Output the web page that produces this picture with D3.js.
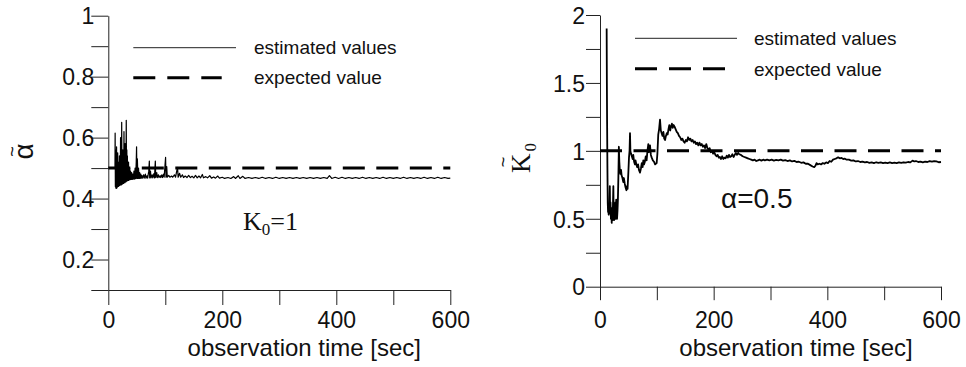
<!DOCTYPE html>
<html>
<head>
<meta charset="utf-8">
<script src="https://cdn.jsdelivr.net/npm/d3@7"></script>
<style>
  body { margin: 0; background: #fff; }
  svg { display: block; font-family: "Liberation Sans", Arial, sans-serif; }
  text { fill: #111; }
  .serif { font-family: "Liberation Serif", "Times New Roman", serif; }
</style>
</head>
<body>
<svg id="chart" width="966" height="367"></svg>
<script>
// ---- data ----
const timeTicks = [0, 100, 200, 300, 400, 500, 600];
const timeTickLabels = [0, 200, 400, 600];
const legendLabels = ['estimated values', 'expected value'];

const alphaTicks = [0.1, 0.2, 0.3, 0.4, 0.5, 0.6, 0.7, 0.8, 0.9, 1];
const alphaTickLabels = [0.2, 0.4, 0.6, 0.8, 1];
const alphaExpected = 0.5;
// [time sec, estimated alpha]
const alphaSeries = [
  [11.7,0.50],[12.0,0.615],[12.4,0.44],[12.8,0.56],[13.2,0.435],[13.6,0.53],[14.0,0.433],[14.5,0.57],
  [15.0,0.435],[15.5,0.52],[16.0,0.438],[16.5,0.55],[17.0,0.44],[17.5,0.50],[18.0,0.44],[18.5,0.52],
  [19.0,0.442],[19.5,0.54],[20.0,0.443],[20.5,0.50],[21.0,0.445],[21.5,0.60],[22.0,0.445],[22.5,0.55],
  [23.0,0.445],[23.5,0.65],[24.0,0.447],[24.5,0.52],[25.0,0.448],[25.5,0.56],[26.0,0.45],[26.5,0.50],
  [27.0,0.45],[27.5,0.62],[28.0,0.452],[28.5,0.53],[29.0,0.452],[29.5,0.58],[30.0,0.455],[30.5,0.52],
  [31.0,0.455],[31.5,0.657],[32.0,0.457],[32.5,0.56],[33.0,0.458],[33.5,0.54],[34.0,0.46],[34.5,0.50],
  [35.0,0.46],[35.5,0.52],[36.0,0.46],[36.5,0.49],[37.0,0.462],[37.5,0.50],[38.0,0.462],[39.0,0.49],
  [40.0,0.463],[41.0,0.485],[42.0,0.463],[43.0,0.48],[44.0,0.464],[45.0,0.49],[46.0,0.464],[47.0,0.50],
  [48.0,0.465],[49.0,0.52],[49.6,0.57],[50.2,0.466],[51.0,0.53],[52.0,0.466],[53.0,0.50],[54.0,0.466],
  [55.0,0.485],[56.0,0.466],[57.0,0.48],[58.0,0.467],[59.0,0.475],[60.0,0.467],[62.0,0.478],[63.0,0.467],
  [65.0,0.48],[66.0,0.467],[68.0,0.475],[69.0,0.467],[71.0,0.49],[72.0,0.523],[72.6,0.468],[74.0,0.49],
  [75.0,0.468],[77.0,0.478],[78.0,0.468],[80.0,0.482],[81.0,0.468],[82.5,0.523],[83.2,0.469],[85.0,0.485],
  [86.0,0.469],[88.0,0.478],[89.0,0.469],[91.0,0.475],[92.0,0.469],[94.0,0.478],[95.0,0.469],[97.0,0.48],
  [98.0,0.47],[99.5,0.51],[100.5,0.535],[101.2,0.47],[102.5,0.505],[103.5,0.47],[106,0.476],[108,0.47],
  [111,0.474],[113,0.47],[116,0.478],[118,0.47],[120,0.49],[121.5,0.502],[122.5,0.47],[125,0.483],
  [127,0.47],[130,0.478],[132,0.469],[135,0.474],[138,0.469],[141,0.476],[144,0.469],[147,0.473],
  [150,0.468],[153,0.476],[156,0.468],[159,0.474],[162,0.468],[165,0.479],[167,0.468],[171,0.472],
  [174,0.468],[178,0.475],[181,0.467],[185,0.471],[188,0.467],[192,0.474],[195,0.467],[200,0.47],
  [204,0.466],[210,0.469],[215,0.466],[220,0.472],[223,0.466],[228,0.475],[231,0.466],[236,0.473],
  [240,0.466],[246,0.469],[252,0.466],[258,0.469],[264,0.466],[270,0.47],[276,0.466],[282,0.469],
  [288,0.466],[294,0.47],[300,0.466],[306,0.469],[312,0.466],[318,0.469],[324,0.466],[330,0.469],
  [336,0.466],[342,0.469],[348,0.466],[354,0.469],[360,0.466],[366,0.469],[372,0.466],[378,0.469],
  [384,0.466],[388,0.475],[392,0.466],[398,0.47],[404,0.466],[410,0.47],[416,0.466],[422,0.469],
  [428,0.466],[434,0.469],[440,0.466],[446,0.47],[452,0.466],[458,0.469],[464,0.466],[470,0.469],
  [476,0.466],[482,0.47],[488,0.466],[494,0.469],[500,0.466],[506,0.469],[512,0.466],[518,0.47],
  [524,0.466],[530,0.469],[536,0.466],[542,0.469],[548,0.466],[554,0.47],[560,0.466],[566,0.469],
  [572,0.466],[578,0.47],[584,0.466],[590,0.469],[596,0.466],[600,0.467]
];

const k0Ticks = [0, 0.25, 0.5, 0.75, 1, 1.25, 1.5, 1.75, 2];
const k0TickLabels = [0, 0.5, 1, 1.5, 2];
const k0Expected = 1;
// [time sec, estimated K0]
const k0Series = [
  [11.7,1.90],[12.1,1.50],[12.5,1.20],[13.0,0.90],[13.6,0.62],[14.2,0.55],[14.8,0.56],[15.3,0.53],
  [15.8,0.60],[16.5,0.54],[17.3,0.74],[17.8,0.55],[18.5,0.62],[19.2,0.50],[20.0,0.58],[20.6,0.47],
  [21.2,0.55],[22.0,0.49],[22.8,0.60],[23.5,0.74],[24.0,0.52],[24.8,0.49],[25.5,0.58],[26.2,0.50],
  [27.0,0.62],[27.8,0.50],[28.5,0.64],[29.2,0.51],[30.0,0.50],[30.8,0.56],[31.5,0.64],[32.3,0.80],
  [33.2,1.03],[34.0,0.92],[35.0,0.85],[36.0,0.83],[37.0,0.86],[38.0,0.82],[39.5,0.80],[41.0,0.77],
  [42.0,0.80],[43.5,0.76],[45.0,0.73],[46.5,0.71],[47.5,0.74],[48.5,0.72],[50.0,0.85],[51.0,0.95],
  [52.0,1.00],[52.8,1.13],[53.5,1.00],[54.5,0.98],[56.0,0.96],[57.5,0.94],[58.5,0.97],[60.0,0.92],
  [61.5,0.90],[62.5,0.93],[64.0,0.90],[65.5,0.88],[67.0,0.90],[68.5,0.86],[70.4,0.84],[72.0,0.87],
  [73.5,0.91],[75.0,0.88],[76.2,0.93],[77.5,0.90],[79.0,0.92],[80.5,0.96],[82.0,0.93],[83.5,1.00],
  [85.0,1.05],[86.0,0.99],[87.0,1.02],[88.0,1.04],[89.5,0.97],[91.0,0.95],[93.0,0.93],[95.0,0.92],
  [97.0,0.90],[99.7,0.91],[101.0,0.98],[102.5,1.12],[104.0,1.16],[105.6,1.23],[107.0,1.15],[108.5,1.13],
  [110.0,1.11],[111.5,1.14],[113.0,1.09],[114.5,1.08],[116.0,1.11],[117.5,1.13],[119.0,1.12],[120.5,1.16],
  [122.0,1.19],[123.5,1.15],[125.0,1.18],[126.5,1.20],[128.0,1.17],[129.5,1.19],[131.0,1.18],[133.0,1.16],
  [135.0,1.14],[137.0,1.13],[139.0,1.11],[141.0,1.10],[143.0,1.08],[145.0,1.09],[147.0,1.07],[149.0,1.06],
  [151.0,1.08],[153.0,1.07],[155.0,1.10],[157.0,1.08],[159.0,1.09],[161.0,1.07],[163.0,1.08],[165.0,1.06],
  [167.0,1.07],[169.0,1.05],[171.0,1.06],[173.0,1.04],[175.0,1.06],[177.0,1.04],[179.0,1.05],[181.0,1.03],
  [183.0,1.04],[185.0,1.02],[187.0,1.05],[189.0,1.02],[191.0,1.01],[193.0,1.02],[195.0,0.99],[197.0,1.00],
  [199.0,0.98],[201.0,0.99],[203.0,0.97],[205.0,0.96],[207.0,0.97],[209.0,0.95],[211.0,0.955],[213.0,0.94],
  [215.0,0.96],[217.0,0.94],[219.0,0.95],[221.0,0.945],[223.0,0.965],[225.0,0.95],[227.0,0.97],[229.0,0.955],
  [231.0,0.96],[233.0,0.975],[235.0,0.955],[237.0,0.97],[239.0,0.985],[241.0,0.97],[243.0,0.985],[245.0,0.975],
  [248.0,0.97],[251.0,0.96],[254.0,0.955],[257.0,0.95],[260.0,0.945],[263.0,0.94],[266.0,0.935],[269.0,0.93],
  [272.0,0.935],[275.0,0.925],[278.0,0.93],[281.0,0.935],[284.0,0.928],[287.0,0.935],[290.0,0.93],[294.0,0.936],
  [298.0,0.93],[302.0,0.935],[306.0,0.928],[310.0,0.933],[314.0,0.93],[318.0,0.935],[322.0,0.928],[326.0,0.932],
  [330.0,0.925],[334.0,0.93],[338.0,0.922],[342.0,0.926],[346.0,0.918],[350.0,0.92],[354.0,0.912],[358.0,0.915],
  [362.0,0.905],[366.0,0.905],[370.0,0.895],[374.0,0.885],[377.0,0.88],[379.0,0.89],[381.0,0.91],[383.0,0.90],
  [386.0,0.905],[389.0,0.90],[392.0,0.91],[395.0,0.905],[398.0,0.915],[401.0,0.91],[404.0,0.925],[407.0,0.92],
  [410.0,0.935],[413.0,0.94],[416.0,0.945],[419.0,0.952],[422.0,0.945],[425.0,0.948],[428.0,0.94],[431.0,0.942],
  [434.0,0.935],[438.0,0.935],[442.0,0.928],[446.0,0.93],[450.0,0.922],[454.0,0.925],[458.0,0.918],[462.0,0.92],
  [466.0,0.915],[470.0,0.918],[474.0,0.912],[478.0,0.915],[482.0,0.91],[486.0,0.916],[490.0,0.912],[494.0,0.915],
  [498.0,0.91],[502.0,0.914],[506.0,0.91],[510.0,0.915],[514.0,0.91],[518.0,0.913],[522.0,0.91],[526.0,0.915],
  [530.0,0.912],[534.0,0.916],[538.0,0.913],[542.0,0.918],[546.0,0.915],[550.0,0.928],[553.0,0.922],[556.0,0.925],
  [560.0,0.918],[564.0,0.92],[568.0,0.915],[572.0,0.92],[576.0,0.918],[580.0,0.924],[584.0,0.92],[588.0,0.925],
  [592.0,0.922],[596.0,0.916],[600.0,0.918]
];

// ---- drawing ----
const svg = d3.select('#chart');
const xLabelBaseline = 328;

function drawPanel(p) {
    let x = d3.scaleLinear().domain([0, 600]).range([p.left, p.right]);
    let y = d3.scaleLinear().domain(p.yDomain).range([p.bottom, p.top]);
    let g = svg.append('g');

    let xAxis = d3.axisBottom(x).tickValues(timeTicks).tickSize(p.xTick).tickSizeOuter(0)
        .tickFormat(d => timeTickLabels.includes(d) ? d : '');
    let gx = g.append('g').attr('transform', 'translate(0,' + p.bottom + ')').call(xAxis);

    let yAxis = d3.axisLeft(y).tickValues(p.yTicks).tickSize(p.yTick).tickSizeOuter(0)
        .tickPadding(p.yPad).tickFormat(d => p.yLabels.includes(d) ? d : '');
    let gy = g.append('g').attr('transform', 'translate(' + p.left + ',0)').call(yAxis);

    [gx, gy].forEach(a => {
        a.attr('font-family', null).attr('font-size', 23);
        a.selectAll('path, line').attr('stroke', '#222').attr('stroke-width', 1);
        a.selectAll('text').attr('fill', '#111');
    });
    gx.selectAll('text').attr('y', xLabelBaseline - p.bottom).attr('dy', 0);
    gy.selectAll('text').attr('dy', '0.36em');

    // expected value
    g.append('line')
        .attr('x1', x(0)).attr('x2', x(600))
        .attr('y1', y(p.expected)).attr('y2', y(p.expected))
        .attr('stroke', '#000').attr('stroke-width', 3)
        .attr('stroke-dasharray', '22,11.5');

    // estimates
    let line = d3.line().x(d => x(d[0])).y(d => y(d[1]));
    g.append('path').datum(p.series)
        .attr('d', line)
        .attr('fill', 'none')
        .attr('stroke', '#000')
        .attr('stroke-width', p.lineWidth)
        .attr('stroke-linejoin', 'round');

    // legend
    let lg = p.legend;
    g.append('line').attr('x1', lg.x1).attr('x2', lg.x2).attr('y1', lg.rows[0]).attr('y2', lg.rows[0])
        .attr('stroke', '#222').attr('stroke-width', 1);
    g.append('line').attr('x1', lg.x1).attr('x2', lg.dashX2).attr('y1', lg.rows[1]).attr('y2', lg.rows[1])
        .attr('stroke', '#000').attr('stroke-width', 3).attr('stroke-dasharray', '22,12');
    legendLabels.forEach((t, i) => {
        g.append('text').attr('x', lg.textX).attr('y', lg.rows[i] + lg.textDy)
            .attr('font-size', 19).text(t);
    });

    // x title
    g.append('text')
        .attr('x', p.left + 196).attr('y', 356)
        .attr('text-anchor', 'middle').attr('font-size', 24)
        .text('observation time [sec]');

    return g;
}

drawPanel({
    left: 108.3, right: 450.3, top: 15.7, bottom: 290,
    yDomain: [0.1, 1], yTicks: alphaTicks, yLabels: alphaTickLabels,
    xTick: 15, yTick: 17, yPad: -3,
    expected: alphaExpected, series: alphaSeries, lineWidth: 1.2,
    legend: { x1: 133.3, x2: 236, dashX2: 221.7, textX: 254, rows: [47.7, 77.7], textDy: 6.5 }
});

drawPanel({
    left: 600, right: 941, top: 15, bottom: 286.7,
    yDomain: [0, 2], yTicks: k0Ticks, yLabels: k0TickLabels,
    xTick: 13.5, yTick: 14, yPad: 1,
    expected: k0Expected, series: k0Series, lineWidth: 1.8,
    legend: { x1: 635, x2: 737, dashX2: 725, textX: 754, rows: [38.3, 68.8], textDy: 7 }
});

// left y label: alpha with tilde
let la = svg.append('g').attr('transform', 'translate(33,151.5) rotate(-90)');
la.append('text').attr('text-anchor', 'middle').attr('font-size', 28).text('α');
la.append('text').attr('text-anchor', 'middle').attr('y', -15).attr('font-size', 18).text('~');

// right y label: K0 with tilde
let lk = svg.append('g').attr('transform', 'translate(530,173) rotate(-90)');
let kt = lk.append('text').attr('class', 'serif').attr('font-size', 27);
kt.append('tspan').text('K');
kt.append('tspan').attr('dx', 2).attr('dy', 6).attr('font-size', 17).text('0');
lk.append('text').attr('text-anchor', 'middle').attr('x', 11).attr('y', -21).attr('font-size', 18).text('~');

// annotations
let k0note = svg.append('text').attr('class', 'serif').attr('x', 243).attr('y', 230).attr('font-size', 26);
k0note.append('tspan').text('K');
k0note.append('tspan').attr('dy', 5).attr('font-size', 17).text('0');
k0note.append('tspan').attr('dy', -5).text('=1');

svg.append('text').attr('x', 721).attr('y', 207.5).attr('font-size', 28).text('α=0.5');
</script>
</body>
</html>
